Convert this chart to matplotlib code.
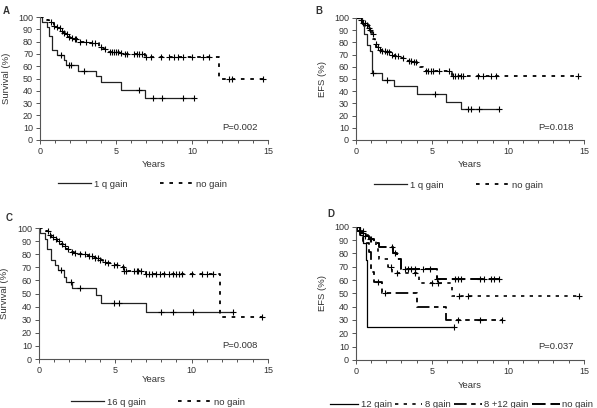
import numpy as np
import matplotlib
matplotlib.use("Agg")
import matplotlib.pyplot as plt
from matplotlib.lines import Line2D

plt.rcParams['font.family'] = ['Liberation Sans', 'DejaVu Sans']
TXT = '#333333'

# ---- Panel A: overall survival, 1q ----
a_gain_t = [0, 0.15, 0.45, 0.6, 0.8, 1.1, 1.6, 1.7, 2.5, 3.7, 4.0, 5.3, 6.9]
a_gain_s = [100, 96, 92, 85, 73, 69, 65, 61, 56, 52, 47, 41, 34]
a_gain_end = 10.1
a_gain_cens = [1.4, 1.9, 2.05, 2.9, 6.5, 7.45, 8.05, 9.4, 10.1]

a_no_t = [0, 0.45, 0.6, 0.75, 0.9, 1.05, 1.2, 1.35, 1.5, 1.65, 1.8, 2.0, 2.2, 2.5,
          3.3, 3.9, 4.1, 4.4, 5.2, 5.5, 6.9, 11.8]
a_no_s = [100, 98, 96, 95, 93, 92, 91, 89, 87, 86, 84, 83, 82, 80,
          79, 76, 74, 72, 71, 70, 67.5, 50]
a_no_end = 14.7
a_no_cens = [0.7, 0.95, 1.1, 1.3, 1.45, 1.6, 1.75, 1.9, 2.1, 2.3, 2.4, 2.6, 3.0, 3.4,
             3.6, 4.0, 4.3, 4.6, 4.75, 4.85, 5.0, 5.1, 5.3, 5.6, 5.7, 6.2, 6.35, 6.5,
             6.7, 6.95, 7.3, 7.95, 8.5, 8.8, 9.05, 9.4, 10.0, 10.7, 11.1, 12.45,
             12.65, 14.7]

# ---- Panel B: EFS, 1q ----
b_gain_t = [0, 0.4, 0.55, 0.75, 0.95, 1.05, 1.7, 2.5, 4.05, 5.9, 6.9]
b_gain_s = [100, 95, 87, 78, 73, 54.5, 49.5, 44, 38, 31.5, 25.5]
b_gain_end = 9.4
b_gain_cens = [1.15, 2.05, 5.2, 7.35, 7.6, 8.1, 9.4]

b_no_t = [0, 0.3, 0.5, 0.7, 0.85, 0.95, 1.05, 1.15, 1.25, 1.35, 1.5, 1.7, 2.0,
          2.3, 2.6, 2.9, 3.4, 3.8, 4.0, 4.2, 4.4, 6.3]
b_no_s = [100, 98, 96, 94, 92, 90, 87, 83, 79, 76, 74, 73, 72,
          70, 69, 67, 65, 64, 62, 60, 56.5, 52.5]
b_no_end = 14.6
b_no_cens = [0.35, 0.5, 0.6, 0.75, 0.85, 0.95, 1.1, 1.3, 1.45, 1.6, 1.75, 1.9, 2.05,
             2.2, 2.4, 2.6, 2.75, 3.1, 3.5, 3.6, 3.8, 3.95, 4.6, 4.75, 4.95, 5.1,
             5.5, 6.15, 6.4, 6.55, 6.7, 6.9, 7.05, 8.05, 8.35, 8.9, 9.25, 14.6]

# ---- Panel C: overall survival, 16q ----
c_gain_t = [0, 0.1, 0.4, 0.55, 0.8, 1.05, 1.25, 1.65, 1.75, 2.15, 3.75, 4.1, 7.0]
c_gain_s = [100, 96, 92, 84, 76, 72, 68, 63, 58.5, 54, 49, 43, 36]
c_gain_end = 12.7
c_gain_cens = [1.45, 2.1, 2.7, 4.9, 5.25, 8.0, 8.75, 10.1, 12.7]

c_no_t = [0, 0.5, 0.65, 0.8, 1.0, 1.2, 1.4, 1.6, 1.8, 2.0, 2.3, 2.6, 3.2, 3.6,
          3.9, 4.2, 4.4, 4.8, 5.4, 5.55, 7.0, 11.85]
c_no_s = [100, 98, 95, 93, 92, 90, 88, 86, 84, 82, 81, 80, 79, 77,
          76, 74, 73, 71.5, 70, 67.5, 65, 32]
c_no_end = 14.6
c_no_cens = [0.6, 0.75, 0.9, 1.1, 1.3, 1.5, 1.7, 1.9, 2.2, 2.4, 2.7, 3.0, 3.3, 3.5,
             3.7, 3.85, 4.0, 4.3, 4.5, 4.9, 5.1, 5.5, 5.6, 5.7, 6.2, 6.4, 6.5, 6.7,
             7.0, 7.2, 7.4, 7.7, 7.9, 8.2, 8.5, 8.8, 9.0, 9.2, 9.4, 10.0, 10.7,
             11.0, 11.4, 14.6]

# ---- Panel D: EFS, chromosome 8 / 12 ----
d12_t = [0, 0.3, 0.5, 0.65, 0.75]
d12_s = [100, 94, 88, 75, 25]
d12_end = 6.45
d12_cens = [6.45]

d8_t = [0, 0.2, 0.6, 0.9, 1.3, 1.45, 1.55, 2.1, 2.35, 4.15, 6.3]
d8_s = [100, 97, 94, 91, 86, 81, 75.5, 70, 65, 57.5, 48]
d8_end = 14.7
d8_cens = [0.5, 0.95, 2.3, 2.7, 3.9, 5.0, 5.4, 6.8, 7.4, 14.7]

d812_t = [0, 0.3, 0.5, 0.85, 1.0, 1.2, 1.75, 4.0, 5.95]
d812_s = [100, 94, 88, 81, 66, 58.5, 50, 40, 30]
d812_end = 9.6
d812_cens = [1.45, 1.9, 6.7, 8.2, 9.6]

dno_t = [0, 0.1, 0.3, 0.5, 0.9, 1.2, 1.5, 2.45, 2.7, 2.95, 5.35]
dno_s = [100, 97, 95, 93, 91, 88, 84.5, 80, 76, 68, 61]
dno_end = 9.4
dno_cens = [0.25, 0.45, 0.6, 1.0, 2.35, 2.55, 3.25, 3.45, 3.65, 3.9, 4.45, 4.9,
            5.35, 6.5, 6.7, 6.9, 8.2, 8.4, 8.9, 9.1, 9.4]


def km(ax, t, s, end, cens, **kw):
    t = np.asarray(t, float)
    s = np.asarray(s, float)
    xs = np.append(t, end)
    ys = np.append(s, s[-1])
    ax.step(xs, ys, where='post', color=kw.pop('color', 'black'),
            solid_capstyle='butt', **kw)
    cens = np.asarray(cens, float)
    idx = np.searchsorted(t, cens, side='right') - 1
    ax.plot(cens, s[idx], ls='none', marker='+', ms=5, mew=0.8, color='black')


def style(ax, ylab):
    ax.set_xlim(0, 15)
    ax.set_ylim(0, 100)
    ax.set_xticks([0, 5, 10, 15])
    ax.set_xticks(np.arange(0, 16, 1), minor=True)
    ax.set_yticks(np.arange(0, 101, 10))
    for sp in ['top', 'right']:
        ax.spines[sp].set_visible(False)
    for sp in ['left', 'bottom']:
        ax.spines[sp].set_color('#555555')
        ax.spines[sp].set_linewidth(0.8)
    ax.tick_params(which='both', direction='out', colors='#555555', labelcolor=TXT,
                   labelsize=6.5, width=0.7, pad=2)
    ax.tick_params(which='major', length=3)
    ax.tick_params(which='minor', length=2)
    ax.text(0.5, -0.2, 'Years', transform=ax.transAxes, ha='center', va='center',
            fontsize=6.8, color=TXT)
    ax.text(-0.148, 0.5, ylab, transform=ax.transAxes, ha='center', va='center',
            rotation=90, fontsize=6.8, color=TXT)


fig = plt.figure(figsize=(5.97, 4.08), dpi=100)
axA = fig.add_axes([0.067, 0.657, 0.382, 0.301])
axB = fig.add_axes([0.596, 0.657, 0.382, 0.299])
axC = fig.add_axes([0.065, 0.120, 0.384, 0.321])
axD = fig.add_axes([0.596, 0.118, 0.382, 0.326])

dot = (0, (2.0, 3.2))
gain_kw = dict(lw=0.9, color='#222222')
no_kw = dict(lw=1.3, linestyle=dot)

km(axA, a_gain_t, a_gain_s, a_gain_end, a_gain_cens, **gain_kw)
km(axA, a_no_t, a_no_s, a_no_end, a_no_cens, **no_kw)
km(axB, b_gain_t, b_gain_s, b_gain_end, b_gain_cens, **gain_kw)
km(axB, b_no_t, b_no_s, b_no_end, b_no_cens, **no_kw)
km(axC, c_gain_t, c_gain_s, c_gain_end, c_gain_cens, **gain_kw)
km(axC, c_no_t, c_no_s, c_no_end, c_no_cens, **no_kw)

km(axD, d12_t, d12_s, d12_end, d12_cens, lw=0.9)
km(axD, d8_t, d8_s, d8_end, d8_cens, lw=1.2, linestyle=(0, (2.0, 3.2)))
km(axD, d812_t, d812_s, d812_end, d812_cens, lw=1.3, linestyle=(0, (7, 2.5, 2.5, 2.5, 2.5, 2.5)))
km(axD, dno_t, dno_s, dno_end, dno_cens, lw=1.4, linestyle=(0, (7, 2.5)))

style(axA, 'Survival (%)')
style(axB, 'EFS (%)')
style(axC, 'Survival (%)')
style(axD, 'EFS (%)')
axC.texts[0].set_position((0.5, -0.16))
axD.texts[0].set_position((0.5, -0.19))

for ax, p, yy in [(axA, 'P=0.002', 0.1), (axB, 'P=0.018', 0.1),
                  (axC, 'P=0.008', 0.1), (axD, 'P=0.037', 0.1)]:
    ax.text(0.955, yy, p, transform=ax.transAxes, ha='right', va='center',
            fontsize=6.8, color=TXT)

for lbl, x, y in [('A', 0.005, 0.985), ('B', 0.528, 0.985),
                  ('C', 0.01, 0.478), ('D', 0.549, 0.487)]:
    fig.text(x, y, lbl, fontsize=7, fontweight='bold', color=TXT, ha='left', va='top')

h_gain = Line2D([], [], color='#222222', lw=0.9)
h_no = Line2D([], [], color='black', lw=1.3, linestyle=dot)
leg_kw = dict(frameon=False, fontsize=6.8, handletextpad=0.3, labelcolor=TXT,
              loc='center')
axA.legend([h_gain, h_no], ['1 q gain', 'no gain'], ncol=2, handlelength=3.5,
           columnspacing=3.5, bbox_to_anchor=(0.45, -0.36), **leg_kw)
axB.legend([h_gain, h_no], ['1 q gain', 'no gain'], ncol=2, handlelength=3.5,
           columnspacing=3.5, bbox_to_anchor=(0.45, -0.37), **leg_kw)
axC.legend([h_gain, h_no], ['16 q gain', 'no gain'], ncol=2, handlelength=3.5,
           columnspacing=3.5, bbox_to_anchor=(0.52, -0.33), **leg_kw)
hD = [Line2D([], [], color='black', lw=0.9),
      Line2D([], [], color='black', lw=1.2, linestyle=(0, (2.0, 3.2))),
      Line2D([], [], color='black', lw=1.3, linestyle=(0, (7, 2.5, 2.5, 2.5, 2.5, 2.5))),
      Line2D([], [], color='black', lw=1.4, linestyle=(0, (7, 2.5)))]
axD.legend(hD, ['12 gain', '8 gain', '8 +12 gain', 'no gain'], ncol=4,
           handlelength=2.9, columnspacing=0.35, bbox_to_anchor=(0.465, -0.335),
           **leg_kw)

fig.savefig('out.png', dpi=100)
